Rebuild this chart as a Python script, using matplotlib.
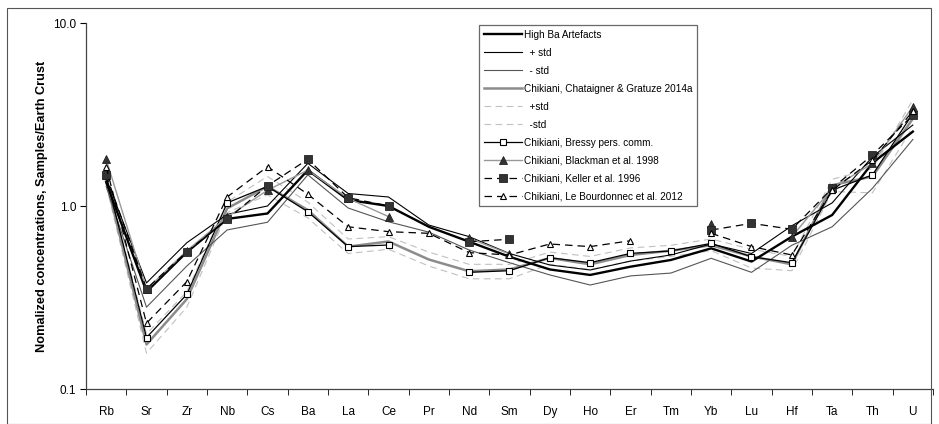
import numpy as np
import matplotlib
matplotlib.use("Agg")
import matplotlib.pyplot as plt
from matplotlib.patches import Rectangle
from matplotlib.ticker import FixedLocator, NullLocator, FuncFormatter

plt.rcParams['font.family'] = ['Liberation Sans', 'DejaVu Sans']

elements = ["Rb", "Sr", "Zr", "Nb", "Cs", "Ba", "La", "Ce", "Pr", "Nd", "Sm",
            "Dy", "Ho", "Er", "Tm", "Yb", "Lu", "Hf", "Ta", "Th", "U"]
nan = np.nan

high_ba = [1.35, 0.34, 0.56, 0.85, 0.91, 1.57, 1.08, 1.00, 0.77, 0.638, 0.528,
           0.45, 0.42, 0.466, 0.507, 0.587, 0.497, 0.68, 0.893, 1.72, 2.55]
high_ba_plus = [1.42, 0.38, 0.63, 0.90, 1.00, 1.71, 1.17, 1.12, 0.787, 0.68, 0.55,
                0.476, 0.447, 0.50, 0.54, 0.62, 0.55, 0.78, 1.04, 1.86, 2.77]
high_ba_minus = [1.28, 0.28, 0.47, 0.74, 0.815, 1.48, 0.975, 0.82, 0.72, 0.575, 0.49,
                 0.42, 0.37, 0.415, 0.43, 0.518, 0.434, 0.61, 0.77, 1.25, 2.31]

chataigner = [1.38, 0.175, 0.31, 0.97, 1.28, 0.95, 0.60, 0.64, 0.51, 0.44, 0.45,
              0.52, 0.48, 0.54, 0.57, 0.61, 0.53, 0.48, 1.30, 1.45, 3.0]
chataigner_plus = [1.45, 0.20, 0.34, 1.05, 1.45, 1.05, 0.66, 0.68, 0.56, 0.48, 0.48,
                   0.56, 0.53, 0.59, 0.61, 0.66, 0.58, 0.53, 1.40, 1.60, 3.8]
chataigner_minus = [1.30, 0.157, 0.28, 0.92, 1.15, 0.86, 0.55, 0.58, 0.47, 0.40, 0.40,
                    0.48, 0.45, 0.50, 0.53, 0.57, 0.458, 0.443, 1.20, 1.18, 2.7]

bressy = [1.45, 0.191, 0.329, 1.04, 1.28, 0.93, 0.60, 0.612, nan, 0.434, 0.443,
          0.522, 0.49, 0.551, 0.568, 0.625, 0.528, 0.49, 1.22, 1.48, 3.2]
blackman = [1.80, 0.35, 0.57, 0.87, 1.22, 1.57, 1.10, 0.875, nan, 0.666, 0.547,
            nan, nan, nan, nan, 0.797, nan, 0.68, 1.25, 1.71, 3.49]
keller = [1.48, 0.353, 0.563, 0.846, 1.29, 1.80, 1.11, 1.00, nan, 0.638, 0.658,
          nan, nan, nan, nan, 0.739, 0.804, 0.746, 1.25, 1.90, 3.14]
bourdonnec = [1.64, 0.229, 0.386, 1.12, 1.64, 1.16, 0.77, 0.724, 0.709, 0.556, 0.54,
              0.62, 0.60, 0.646, nan, 0.709, 0.60, 0.54, 1.22, 1.78, 3.3]

fig = plt.figure(figsize=(9.39, 4.24), dpi=100)
fig.patches.append(Rectangle((7/939, 0.0), 924/939, 1 - 8/424, transform=fig.transFigure,
                             fill=False, edgecolor='#555555', linewidth=0.8))
ax = fig.add_axes([86/939, 1 - 389/424, (933 - 86)/939, (389 - 23)/424])
x = np.arange(len(elements))

ax.plot(x, high_ba, color='black', lw=1.7, label='High Ba Artefacts', zorder=3)
ax.plot(x, high_ba_plus, color='black', lw=0.8, label='  + std', zorder=3)
ax.plot(x, high_ba_minus, color='#555555', lw=0.8, label='  - std', zorder=3)
ax.plot(x, chataigner, color='#8c8c8c', lw=1.8, label='Chikiani, Chataigner & Gratuze 2014a', zorder=2)
ax.plot(x, chataigner_plus, color='#c0c0c0', lw=0.8, ls=(0, (6, 4)), label='  +std', zorder=1)
ax.plot(x, chataigner_minus, color='#c0c0c0', lw=0.8, ls=(0, (6, 4)), label='  -std', zorder=1)
ax.plot(x, bressy, color='black', lw=0.9, marker='s', ms=3.8, mfc='white', mec='black',
        mew=0.8, label='Chikiani, Bressy pers. comm.', zorder=4)
ax.plot(x, blackman, color='#999999', lw=1.0, marker='^', ms=5.5, mfc='#333333', mec='#222222',
        mew=0.6, label='Chikiani, Blackman et al. 1998', zorder=4)
ax.plot(x, keller, color='black', lw=0.9, ls=(0, (6, 4)), marker='s', ms=5.8, mfc='#333333',
        mec='#222222', mew=0.6, label='Chikiani, Keller et al. 1996', zorder=4)
ax.plot(x, bourdonnec, color='black', lw=0.9, ls=(0, (6, 4)), marker='^', ms=5, mfc='white',
        mec='black', mew=0.8, label='Chikiani, Le Bourdonnec et al. 2012', zorder=4)

ax.set_yscale('log')
ax.set_ylim(0.1, 10)
ax.set_xlim(-0.5, len(elements) - 0.5)
ax.yaxis.set_major_locator(FixedLocator([0.1, 1.0, 10.0]))
ax.yaxis.set_minor_locator(NullLocator())
ax.yaxis.set_major_formatter(FuncFormatter(lambda v, p: f"{v:.1f}"))
ax.set_xticks(x)
ax.set_xticklabels(elements)
ax.set_xticks(np.arange(len(elements) + 1) - 0.5, minor=True)
ax.tick_params(axis='x', which='major', length=0, pad=12, labelsize=8.5)
ax.tick_params(axis='x', which='minor', length=4, direction='out', color='black')
ax.tick_params(axis='y', which='major', length=4, direction='out', labelsize=8.5, pad=3)
for s in ['top', 'right']:
    ax.spines[s].set_visible(False)
for s in ['left', 'bottom']:
    ax.spines[s].set_color('#444444')
    ax.spines[s].set_linewidth(0.9)

ax.set_ylabel('Nomalized concentrations, Samples/Earth Crust', fontsize=9.2, fontweight='bold',
              labelpad=4)

leg = ax.legend(loc='upper left', bbox_to_anchor=((479 - 86) / 847, (389 - 25) / 366),
                fontsize=7.2, frameon=True, fancybox=False, edgecolor='#444444',
                handlelength=3.8, handletextpad=0.25, labelspacing=0.8, borderpad=0.45,
                borderaxespad=0)
leg.get_frame().set_linewidth(0.9)

fig.savefig('out.png', dpi=100)
